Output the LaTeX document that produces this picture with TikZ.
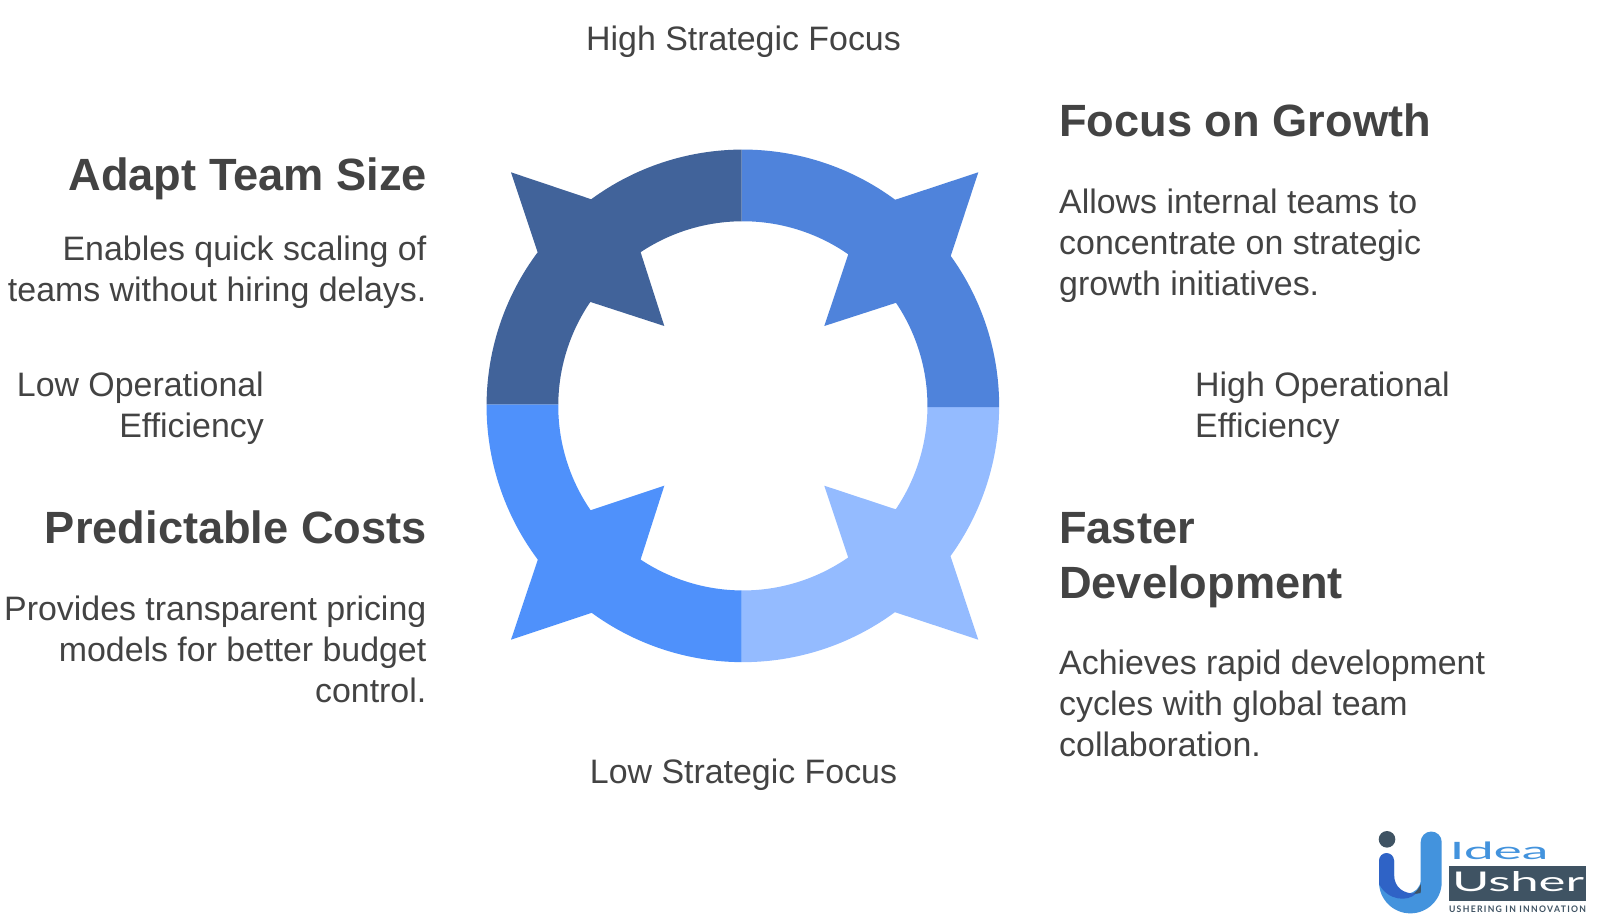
\documentclass[tikz,border=0pt]{standalone}
\usepackage{fontspec}
\setmainfont{Liberation Sans}
\newfontfamily\logofont{Lato}
\definecolor{txt}{HTML}{434343}
\definecolor{qtl}{HTML}{41639A}
\definecolor{qtr}{HTML}{4F83DB}
\definecolor{qbr}{HTML}{94BBFF}
\definecolor{qbl}{HTML}{4F91FB}
\definecolor{logolight}{HTML}{4393DD}
\definecolor{logodark}{HTML}{2F63C6}
\definecolor{logoslate}{HTML}{3F5363}
\tikzset{
  body/.style={inner sep=0pt,text=txt,font=\fontsize{33.9}{40.9}\selectfont},
  head/.style={inner sep=0pt,text=txt,font=\fontsize{45.2}{54.5}\selectfont\bfseries},
  blockL/.style={anchor=north east,align=right},
  blockR/.style={anchor=north west,align=left},
  logotext/.style={inner sep=0pt,anchor=center},
}
% colour; outer arc a0->a1; tip; outer arc a2->a3; inner arc b3->b2; tip; inner arc b1->b0
\newcommand{\quadrant}[9]{\def\qc{#1}\def\qa{#2}\def\qb{#3}\def\qtip{#4}\def\qd{#5}\def\qe{#6}\def\qf{#7}\def\qg{#8}\def\qtwo{#9}\quadrantfin}
\newcommand{\quadrantfin}[2]{%
  \fill[\qc] (\qa:256.3pt) arc[start angle=\qa,end angle=\qb,radius=256.3pt]
    -- \qtip -- (\qd:256.3pt) arc[start angle=\qd,end angle=\qe,radius=256.3pt]
    -- (\qf:184.6pt) arc[start angle=\qf,end angle=\qg,radius=184.6pt]
    -- \qtwo -- (#1:184.6pt) arc[start angle=#1,end angle=#2,radius=184.6pt] -- cycle;}
\begin{document}
\begin{tikzpicture}[x=1pt,y=-1pt]
\useasboundingbox (0,0) rectangle (1600,919);
\fill[white] (0,0) rectangle (1600,919);
\begin{scope}[shift={(742.85,405.85)},y=1pt]
  \quadrant{qbr}{-0.26}{-35.90}{(235.45pt,-233.85pt)}{-53.61}{-90.26}{-90.36}{-55.22}{(81.45pt,-79.85pt)}{-34.09}{-0.36}
  \quadrant{qbl}{179.65}{216.87}{(-231.85pt,-233.85pt)}{233.85}{269.74}{269.64}{236.36}{(-78.55pt,-79.85pt)}{214.44}{179.52}
  \quadrant{qtr}{90.26}{53.53}{(235.45pt,233.55pt)}{35.79}{-0.26}{-0.36}{33.94}{(81.45pt,79.85pt)}{55.17}{90.36}
  \quadrant{qtl}{90.26}{126.28}{(-231.85pt,233.55pt)}{143.19}{179.65}{179.52}{145.73}{(-78.55pt,79.85pt)}{123.64}{90.36}
\end{scope}
\node[body,anchor=north] (hsf) at (743.5,25.5) {High Strategic Focus};
\node[body,anchor=north] (lsf) at (743.5,758.5) {Low Strategic Focus};
\node[head,blockR] (t1) at (1059,103.5) {Focus on Growth};
\node[body,blockR] (b1) at (1059,188.5) {Allows internal teams to\\concentrate on strategic\\growth initiatives.};
\node[body,blockR] (h1) at (1195,371.5) {High Operational\\Efficiency};
\node[head,blockR] (t2) at (1059,512.5) {Faster\\Development};
\node[body,blockR] (b2) at (1059,649.5) {Achieves rapid development\\cycles with global team\\collaboration.};
\node[head,blockL] (t3) at (427,157.5) {Adapt Team Size};
\node[body,blockL] (b3) at (426.5,235.5) {Enables quick scaling of\\teams without hiring delays.};
\node[body,blockL] (h3) at (264,371.5) {Low Operational\\Efficiency};
\node[head,blockL] (t4) at (427,510.5) {Predictable Costs};
\node[body,blockL] (b4) at (426.5,595.5) {Provides transparent pricing\\models for better budget\\control.};
% logo
\fill[logolight] (1420.7,842) arc[start angle=180,end angle=0,radius=10.5pt] -- (1441.7,882)
  arc[start angle=0,end angle=-180,radius=31.35pt]
  -- (1379,860) -- (1394,860) -- (1394,880)
  arc[start angle=180,end angle=360,radius=13.35pt] -- cycle;
\fill[logoslate] (1420.9,884) -- (1420.7,893) -- (1412,894.5) .. controls (1416,892) and (1419,889) .. cycle;
\fill[logodark] (1379,860.5) arc[start angle=180,end angle=0,radius=7.5pt] -- (1394,874)
  .. controls (1394,888) and (1404,894) .. (1416,893.5)
  .. controls (1408,902) and (1388,901) .. (1379,884) -- cycle;
\fill[logoslate] (1387,839.3) circle[radius=8.3pt];
\fill[logoslate] (1449.3,866) rectangle (1586.3,900.7);
\node[logotext,text=logolight] (idea) at (1499,850.5) {\resizebox{99pt}{17.6pt}{\logofont Idea}};
\node[logotext,text=white] (usher) at (1518,881.7) {\resizebox{132pt}{20pt}{\logofont Usher}};
\node[logotext,text=logoslate] (tag) at (1517.5,909) {\resizebox{137pt}{6.6pt}{\logofont\bfseries\addfontfeature{LetterSpace=15}USHERING IN INNOVATION}};
\end{tikzpicture}
\end{document}
